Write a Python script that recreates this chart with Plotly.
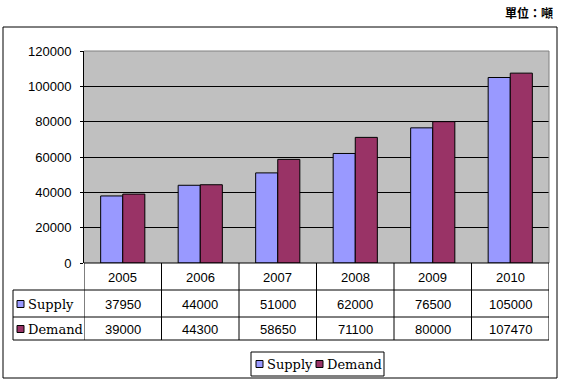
import plotly.graph_objects as go

years = ["2005", "2006", "2007", "2008", "2009", "2010"]
supply = [37950, 44000, 51000, 62000, 76500, 105000]
demand = [39000, 44300, 58650, 71100, 80000, 107470]
series_names = ["Supply", "Demand"]
unit_label = "單位：噸"

C_SUP = "#9999FF"
C_DEM = "#993366"
W, H = 562, 383
L, R, T, B = 84, 549, 51, 263  # plot area in pixels

def px(x):
    return (x - L) / (R - L)

def py(y):
    return (B - y) / (B - T)

NUM_FONT = dict(family="Liberation Sans", size=13, color="black")
TXT_FONT = dict(family="DejaVu Serif", size=13, color="black")

fig = go.Figure()
fig.add_trace(go.Bar(x=years, y=supply, name=series_names[0], marker=dict(color=C_SUP, line=dict(color="black", width=1))))
fig.add_trace(go.Bar(x=years, y=demand, name=series_names[1], marker=dict(color=C_DEM, line=dict(color="black", width=1))))

shapes = []
annotations = []

def hline(x0, x1, y, color="black", xref="paper"):
    shapes.append(dict(type="line", xref=xref, yref="paper", x0=x0, x1=x1, y0=y, y1=y, line=dict(color=color, width=1)))

def vline(x, y0, y1, color="black", xref="paper"):
    shapes.append(dict(type="line", xref=xref, yref="paper", x0=x, x1=x, y0=y0, y1=y1, line=dict(color=color, width=1)))

# outer frame
shapes.append(dict(type="rect", xref="paper", yref="paper", x0=px(3), x1=px(557), y0=py(27), y1=py(378), line=dict(color="black", width=1), fillcolor="rgba(0,0,0,0)", layer="below"))
# plot area border top/right gray
hline(0, 1, 1, color="#808080")
vline(1, 0, 1, color="#808080")

# data table
row_y = [263, 290, 317, 340]
hline(0, 1, py(263))
for yy in row_y[1:]:
    hline(px(13), 1, py(yy))
for i in range(len(years) + 1):
    vline(i - 0.5, py(263), py(340), xref="x")
vline(px(13), py(290), py(340))

for i, yr in enumerate(years):
    annotations.append(dict(x=i, xref="x", y=py(277), yref="paper", text=yr, showarrow=False, font=NUM_FONT, xanchor="center", yanchor="middle"))
    annotations.append(dict(x=i, xref="x", y=py(304), yref="paper", text=str(supply[i]), showarrow=False, font=NUM_FONT, xanchor="center", yanchor="middle"))
    annotations.append(dict(x=i, xref="x", y=py(329), yref="paper", text=str(demand[i]), showarrow=False, font=NUM_FONT, xanchor="center", yanchor="middle"))

def key(x, y, color, label):
    shapes.append(dict(type="rect", xref="paper", yref="paper", x0=px(x), x1=px(x + 7), y0=py(y - 3.5), y1=py(y + 3.5), fillcolor=color, line=dict(color="black", width=1)))
    annotations.append(dict(x=px(x + 9), xref="paper", y=py(y), yref="paper", text=label, showarrow=False, font=TXT_FONT, xanchor="left", yanchor="middle"))

key(17, 304, C_SUP, series_names[0])
key(17, 329, C_DEM, series_names[1])

# legend box
shapes.append(dict(type="rect", xref="paper", yref="paper", x0=px(251), x1=px(384), y0=py(352), y1=py(376), line=dict(color="black", width=1), fillcolor="white"))
key(256, 364, C_SUP, series_names[0])
key(316, 364, C_DEM, series_names[1])

annotations.append(dict(x=px(555), xref="paper", y=py(13), yref="paper", text="<b>" + unit_label + "</b>", showarrow=False,
                        font=dict(family="Noto Sans CJK TC", size=12, color="black"), xanchor="right", yanchor="middle"))

fig.update_layout(
    width=W, height=H,
    margin=dict(l=L, r=W - R, t=T, b=H - B, pad=0),
    paper_bgcolor="white", plot_bgcolor="#C0C0C0",
    showlegend=False,
    barmode="group", bargap=0.43, bargroupgap=0,
    shapes=shapes, annotations=annotations,
    xaxis=dict(type="category", range=[-0.5, 5.5], showticklabels=False, showgrid=False, showline=False, zeroline=False, ticks=""),
    yaxis=dict(range=[0, 120000], dtick=20000, tickformat="d", showgrid=True, gridcolor="black", gridwidth=1,
               showline=True, linecolor="black", linewidth=1, ticks="outside", ticklen=3, tickcolor="black",
               tickfont=NUM_FONT, zeroline=False, ticklabelstandoff=6),
)

fig.write_html("out.html", config={"displayModeBar": False},
               post_script="document.body.style.margin='0';document.body.style.overflow='hidden';")
